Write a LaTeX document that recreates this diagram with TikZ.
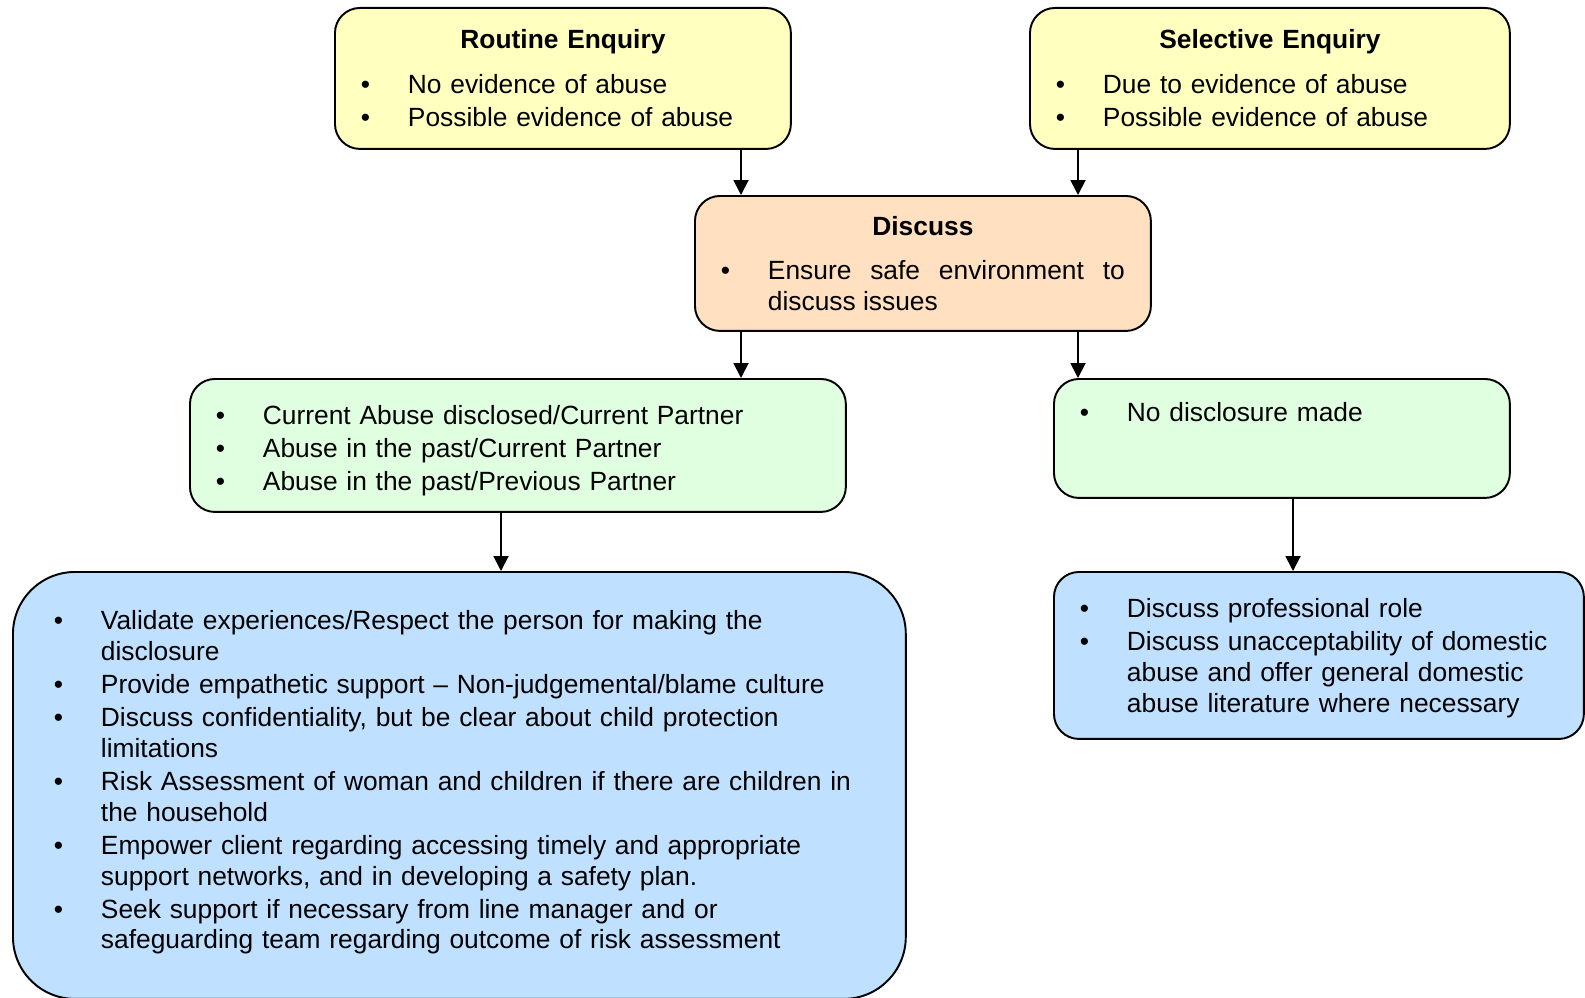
\documentclass[tikz,border=0pt]{standalone}
\usepackage{fontspec}
\setmainfont{Liberation Sans}
\usepackage{xcolor}
\usepackage{enumitem}
\usetikzlibrary{arrows.meta}

\definecolor{enqyellow}{HTML}{FFFFC0}
\definecolor{talkpeach}{HTML}{FFE0C0}
\definecolor{discgreen}{HTML}{E0FFE0}
\definecolor{actblue}{HTML}{C0E0FF}

\setlist[itemize]{label=\textbullet, nosep, leftmargin=0.94cm, labelwidth=0.94cm, labelsep=0pt, align=left, itemsep=1.3pt}

\tikzset{
  box/.style={draw, line width=1.1pt, rounded corners=0.5cm, anchor=north west,
    align=left, inner xsep=0.52cm, inner ysep=0pt, font=\fontsize{15}{17.5}\selectfont},
  arr/.style={-{Triangle[length=0.3cm,width=0.3cm]}, line width=1.1pt}
}

\begin{document}
\begin{tikzpicture}[x=0.02cm, y=-0.02cm]

    \useasboundingbox (0,0) rectangle (1585,997);
    \clip (0,0) rectangle (1585,997);

    % Enquiry boxes
    \node[box, fill=enqyellow, text width=8.08cm, minimum height=2.82cm] (routine) at (334,7)
      {{\centering\bfseries Routine Enquiry\par}\vspace{8pt}
       \begin{itemize}
         \item No evidence of abuse
         \item Possible evidence of abuse\rule[-1pt]{0pt}{0pt}
       \end{itemize}};
    \node[box, fill=enqyellow, text width=8.56cm, minimum height=2.82cm] (selective) at (1029,7)
      {{\centering\bfseries Selective Enquiry\par}\vspace{8pt}
       \begin{itemize}
         \item Due to evidence of abuse
         \item Possible evidence of abuse\rule[-1pt]{0pt}{0pt}
       \end{itemize}};

    \node[box, fill=talkpeach, align=justify, text width=8.08cm, minimum height=2.7cm] (discuss) at (694,195)
      {{\centering\bfseries Discuss\par}\vspace{8pt}
       \begin{itemize}
         \item Ensure safe environment to\linebreak discuss issues
       \end{itemize}};

    % Outcomes
    \node[box, fill=discgreen, text width=12.08cm, minimum height=2.66cm] (disclosed) at (189,378)
      {\begin{itemize}
         \item Current Abuse disclosed/Current Partner
         \item Abuse in the past/Current Partner
         \item Abuse in the past/Previous Partner\rule[-3.5pt]{0pt}{0pt}
       \end{itemize}};
    \node[box, fill=discgreen, text width=8.08cm, minimum height=2.38cm] (nodisc) at (1053,378)
      {\begin{itemize}
         \item No disclosure made\rule[-37pt]{0pt}{0pt}
       \end{itemize}};

    % Actions
    \node[box, fill=actblue, rounded corners=1.24cm, inner xsep=0.82cm, text width=16.22cm, minimum height=8.54cm] (actions) at (12,571)
      {\begin{itemize}
         \item Validate experiences/Respect the person for making the\newline disclosure
         \item Provide empathetic support -- Non-judgemental/blame culture
         \item Discuss confidentiality, but be clear about child protection\newline limitations
         \item Risk Assessment of woman and children if there are children in\newline the household
         \item Empower client regarding accessing timely and appropriate\newline support networks, and in developing a safety plan.
         \item Seek support if necessary from line manager and or\newline safeguarding team regarding outcome of risk assessment\rule[-13pt]{0pt}{0pt}
       \end{itemize}};
    \node[box, fill=actblue, text width=9.56cm, minimum height=3.34cm] (role) at (1053,571)
      {\begin{itemize}
         \item Discuss professional role
         \item Discuss unacceptability of domestic\newline abuse and offer general domestic\newline abuse literature where necessary\rule[-6.8pt]{0pt}{0pt}
       \end{itemize}};

    % Arrows
    \coordinate (cl) at (741,0);
    \coordinate (cr) at (1078,0);
    \coordinate (cg) at (501,0);
    \coordinate (cb) at (1293,0);

    \draw[arr] (routine.south -| cl) -- (discuss.north -| cl);
    \draw[arr] (selective.south -| cr) -- (discuss.north -| cr);
    \draw[arr] (discuss.south -| cl) -- (disclosed.north -| cl);
    \draw[arr] (discuss.south -| cr) -- (nodisc.north -| cr);
    \draw[arr] (disclosed.south -| cg) -- (actions.north -| cg);
    \draw[arr] (nodisc.south -| cb) -- (role.north -| cb);

\end{tikzpicture}
\end{document}
